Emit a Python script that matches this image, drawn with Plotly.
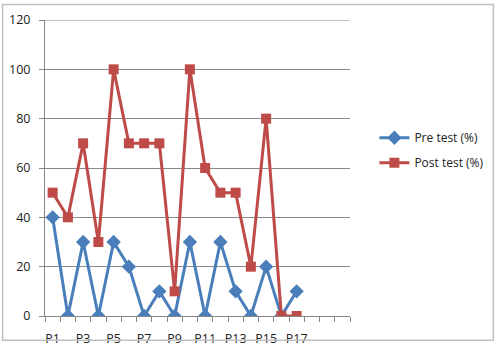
import plotly.graph_objects as go

categories = [f"P{i}" for i in range(1, 21)]
pre_test = [40, 0, 30, 0, 30, 20, 0, 10, 0, 30, 0, 30, 10, 0, 20, 0, 10]
post_test = [50, 40, 70, 30, 100, 70, 70, 70, 10, 100, 60, 50, 50, 20, 80, 0, 0]
y_ticks = [0, 20, 40, 60, 80, 100, 120]

xpos = list(range(1, len(categories) + 1))
tick_idx = [i for i in range(0, 17, 2)]

fig = go.Figure()
fig.add_trace(go.Scatter(
    x=xpos[:len(pre_test)], y=pre_test, name="Pre test (%)", mode="lines+markers",
    line=dict(color="#4A7EBB", width=3),
    marker=dict(symbol="diamond", size=11, color="#4A7EBB"),
    legendgroup="a"))
fig.add_trace(go.Scatter(
    x=xpos[:len(post_test)], y=post_test, name="Post test (%)", mode="lines+markers",
    line=dict(color="#BE4B48", width=3),
    marker=dict(symbol="square", size=10, color="#BE4B48"),
    legendgroup="b"))

fig.update_layout(
    width=502, height=349,
    margin=dict(l=45, r=152, t=20, b=33),
    paper_bgcolor="white", plot_bgcolor="white",
    font=dict(family="Open Sans, Liberation Sans, sans-serif", size=12.5, color="#222222"),
    showlegend=True,
    legend=dict(x=1.08, y=0.56, xanchor="left", yanchor="middle",
                tracegroupgap=6, font=dict(size=12), itemwidth=30,
                bgcolor="rgba(0,0,0,0)"),
    shapes=[
        dict(type="rect", xref="paper", yref="paper", x0=-0.139, y0=-0.082, x1=1.47, y1=1.052,
             line=dict(color="#BFBFBF", width=1.5)),
        dict(type="line", xref="paper", yref="y", x0=0, x1=1, y0=120, y1=120,
             line=dict(color="#898989", width=1)),
    ],
)
fig.update_xaxes(
    range=[0.5, 20.5], tickmode="array", automargin=False,
    tickvals=[xpos[i] for i in tick_idx], ticktext=[categories[i] for i in tick_idx],
    ticks="", ticklabelstandoff=11, showgrid=False, showline=True, linecolor="#868686", linewidth=1,
    zeroline=False,
    minor=dict(tickmode="array", tickvals=[i + 0.5 for i in range(0, 21)], ticks="outside",
               ticklen=5, tickcolor="#868686", showgrid=False),
)
fig.update_yaxes(
    range=[0, 120], tickmode="array", tickvals=y_ticks, automargin=False,
    showgrid=True, gridcolor="#898989", gridwidth=1,
    showline=True, linecolor="#868686", linewidth=1,
    ticks="outside", ticklen=5, tickcolor="#868686", zeroline=False,
    ticklabelstandoff=6,
)

fig.write_html("out.html")
